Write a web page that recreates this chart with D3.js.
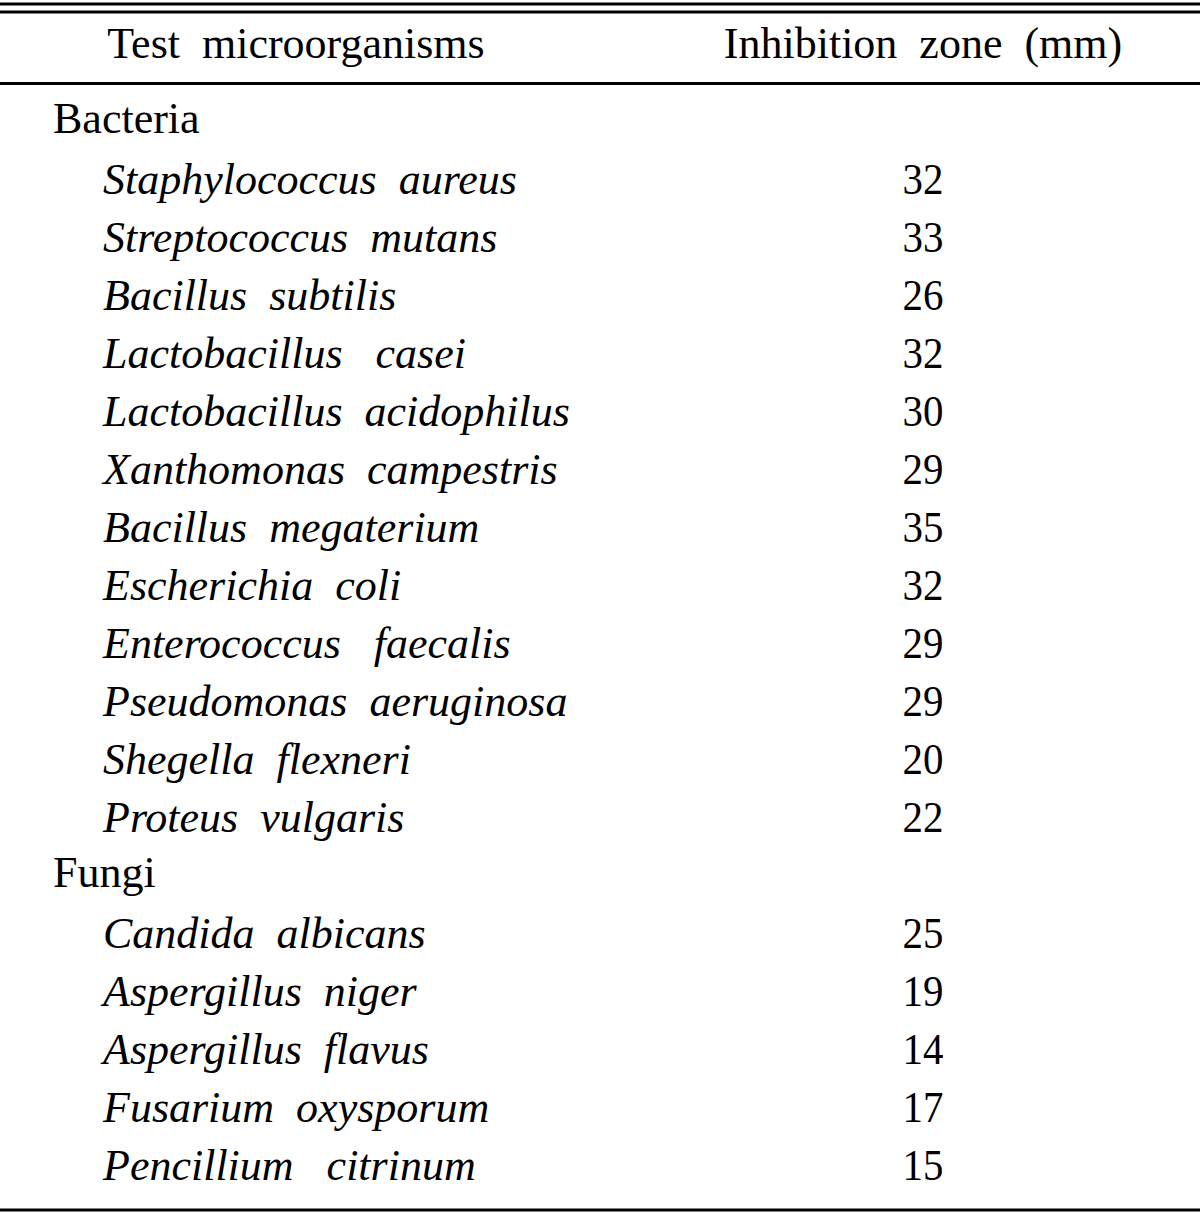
<!DOCTYPE html>
<html><head><meta charset="utf-8">
<script src="https://cdn.jsdelivr.net/npm/d3@7"></script>
<style>body{margin:0;background:#fff}svg{display:block}text{font-family:"Liberation Serif","Times New Roman",serif;fill:#000}</style>
</head><body>
<script>
const headers = ["Test  microorganisms", "Inhibition  zone  (mm)"];
const groups = ["Bacteria", "Fungi"];
const bacteria = ["Staphylococcus  aureus","Streptococcus  mutans","Bacillus  subtilis","Lactobacillus   casei","Lactobacillus  acidophilus","Xanthomonas  campestris","Bacillus  megaterium","Escherichia  coli","Enterococcus   faecalis","Pseudomonas  aeruginosa","Shegella  flexneri","Proteus  vulgaris"];
const bacteriaValues = [32,33,26,32,30,29,35,32,29,29,20,22];
const fungi = ["Candida  albicans","Aspergillus  niger","Aspergillus  flavus","Fusarium  oxysporum","Pencillium   citrinum"];
const fungiValues = [25,19,14,17,15];

const rows = [];
rows.push({type:"group", label:groups[0]});
bacteria.forEach((n,i)=>rows.push({type:"item", label:n, value:bacteriaValues[i]}));
rows.push({type:"group", label:groups[1]});
fungi.forEach((n,i)=>rows.push({type:"item", label:n, value:fungiValues[i]}));

const W=1200,H=1213;
const svg=d3.select("body").append("svg").attr("width",W).attr("height",H);
const y=d3.scalePoint().domain(d3.range(rows.length)).range([136,1180]);
const fs=44;

// rules
svg.append("rect").attr("x",0).attr("y",2.5).attr("width",W).attr("height",3).attr("fill","#000");
svg.append("rect").attr("x",0).attr("y",10.5).attr("width",W).attr("height",3).attr("fill","#000");
svg.append("rect").attr("x",0).attr("y",82).attr("width",W).attr("height",3).attr("fill","#000");
svg.append("rect").attr("x",0).attr("y",1208.5).attr("width",W).attr("height",3).attr("fill","#000");

svg.append("text").attr("xml:space","preserve").attr("x",296).attr("y",58).attr("text-anchor","middle").attr("font-size",fs).text(headers[0]);
svg.append("text").attr("xml:space","preserve").attr("x",923).attr("y",58).attr("text-anchor","middle").attr("font-size",fs).text(headers[1]);

const g=svg.selectAll("g.row").data(rows).join("g").attr("class","row");
g.append("text").attr("xml:space","preserve")
 .attr("x",d=>d.type==="group"?53:103).attr("y",(d,i)=>y(i)-(d.type==="group"?3:0))
 .attr("font-size",fs).attr("font-style",d=>d.type==="group"?"normal":"italic")
 .text(d=>d.label);
g.filter(d=>d.type==="item").append("text")
 .attr("transform",d=>`translate(923,${y(rows.indexOf(d))}) scale(0.93,1)`)
 .attr("text-anchor","middle").attr("font-size",fs)
 .text(d=>d.value);
</script>
</body></html>
